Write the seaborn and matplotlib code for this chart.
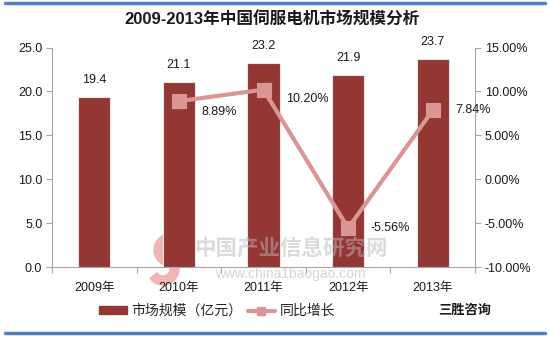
import numpy as np
import pandas as pd
import matplotlib
matplotlib.use("Agg")
import matplotlib.pyplot as plt
from matplotlib.lines import Line2D
from matplotlib.patches import Wedge
import seaborn as sns

years = ["2009年", "2010年", "2011年", "2012年", "2013年"]
market_size = [19.4, 21.1, 23.2, 21.9, 23.7]
growth_years = ["2010年", "2011年", "2012年", "2013年"]
growth_pct = [8.89, 10.20, -5.56, 7.84]
growth_labels = ["8.89%", "10.20%", "-5.56%", "7.84%"]
left_ticks = [0, 5, 10, 15, 20, 25]
right_ticks = [-10, -5, 0, 5, 10, 15]

sns.set_theme(style="white")
plt.rcParams["font.family"] = ["Liberation Sans", "Noto Sans CJK SC", "DejaVu Sans"]

BAR = "#943634"
LINE = "#d99694"
SPINE = "#a6a6a6"

fig = plt.figure(figsize=(5.5, 3.42), dpi=100)
ax = fig.add_axes([52/550, 1-267/342, (475-52)/550, (267-47.5)/342])
ax.patch.set_alpha(0)

df_bar = pd.DataFrame({"year": years, "size": market_size})
sns.barplot(data=df_bar, x="year", y="size", order=years, color=BAR,
            width=0.38, edgecolor="#e6e6e6", linewidth=0.8, saturation=1, ax=ax)
ax.set_ylim(0, 25)
ax.set_xlim(-0.5, 4.5)
ax.set_yticks(left_ticks)
ax.set_yticklabels([f"{v:.1f}" for v in left_ticks])
ax.set_xlabel("")
ax.set_ylabel("")
ax.bar_label(ax.containers[0], fmt="%.1f", padding=8, fontsize=9, color="#1a1a1a")

ax2 = ax.twinx()
ax2.patch.set_alpha(0)
df_line = pd.DataFrame({"year": growth_years, "pct": growth_pct})
sns.pointplot(data=df_line, x="year", y="pct", order=years, color=LINE,
              markers="s", linestyles="-", markersize=8, linewidth=3, ax=ax2)
for ln in ax2.lines:
    ln.set_markeredgecolor(LINE)
    ln.set_zorder(5)
ax2.set_ylim(-10, 15)
ax2.set_xlim(-0.5, 4.5)
ax2.set_yticks(right_ticks)
ax2.set_yticklabels([f"{v:.2f}%" for v in right_ticks])
ax2.set_ylabel("")
ax2.set_xlabel("")

yoff = [-8, -7, 0, 0]
for i, (yr, v, lab) in enumerate(zip(growth_years, growth_pct, growth_labels)):
    ax2.annotate(lab, xy=(years.index(yr), v), xytext=(16, yoff[i]),
                 textcoords="offset points", ha="left", va="center",
                 fontsize=9, color="#1a1a1a")

# ticks at category boundaries
ax.set_xticks(range(len(years)))
ax.set_xticklabels(years, fontsize=9, color="#1a1a1a")
ax.set_xticks(np.arange(-0.5, 5, 1), minor=True)
ax.tick_params(axis="x", which="major", length=0, pad=11)
ax.tick_params(axis="x", which="minor", length=4, color=SPINE, width=0.8, bottom=True)
ax.tick_params(axis="y", length=4, color=SPINE, width=0.8, left=True, labelsize=9,
               labelcolor="#1a1a1a", pad=3)
ax2.tick_params(axis="y", length=4, color=SPINE, width=0.8, right=True, labelsize=9,
                labelcolor="#1a1a1a", pad=3)
ax2.tick_params(axis="x", which="both", length=0)

for a in (ax, ax2):
    a.spines["top"].set_visible(False)
    for s in ("left", "right", "bottom"):
        a.spines[s].set_color(SPINE)
        a.spines[s].set_linewidth(0.8)
ax.spines["right"].set_visible(False)
ax2.spines["left"].set_visible(False)
ax2.spines["bottom"].set_visible(False)

# watermark logo (behind the bars) and text (semi-transparent, over the plot)
for cx, cy, th1, th2 in ((170, 250, 35, 275), (163, 269, -145, 95)):
    fig.add_artist(Wedge((cx/100, (342-cy)/100), 0.16, th1, th2, width=0.09,
                         color="#f2b4b4", transform=fig.dpi_scale_trans, zorder=-1))
fig.text(291/550, 1-250/342, "中国产业信息研究网", fontsize=15.5, fontweight="bold",
         color="#b8b8b8", alpha=0.5, ha="center", va="center", zorder=10)
fig.text(290/550, 1-274/342, "www.china1baogao.com", fontsize=10,
         color="#b8b8b8", alpha=0.6, ha="center", va="center", zorder=10)

fig.text(0.495, 1-20/342, "2009-2013年中国伺服电机市场规模分析", fontsize=12,
         fontweight="bold", ha="center", va="center", color="#1a1a1a")

handles = [plt.Rectangle((0, 0), 1, 1, color=BAR),
           Line2D([0], [0], color=LINE, lw=3, marker="s", markersize=6)]
fig.legend(handles, ["市场规模（亿元）", "同比增长"], loc="center",
           bbox_to_anchor=(217/550, 1-311/342), ncol=2, frameon=False, fontsize=10,
           handlelength=2.0, handleheight=0.5, handletextpad=0.3, columnspacing=0.4)
fig.text(465/550, 1-311/342, "三胜咨询", fontsize=9.5, fontweight="bold",
         ha="center", va="center", color="#1a1a1a")

for yy in (3, 333):
    fig.add_artist(Line2D([5/550, 545/550], [1-yy/342, 1-yy/342], color="#4f81bd",
                          lw=2.5, transform=fig.transFigure))

fig.savefig("out.png", dpi=100, facecolor="white")
